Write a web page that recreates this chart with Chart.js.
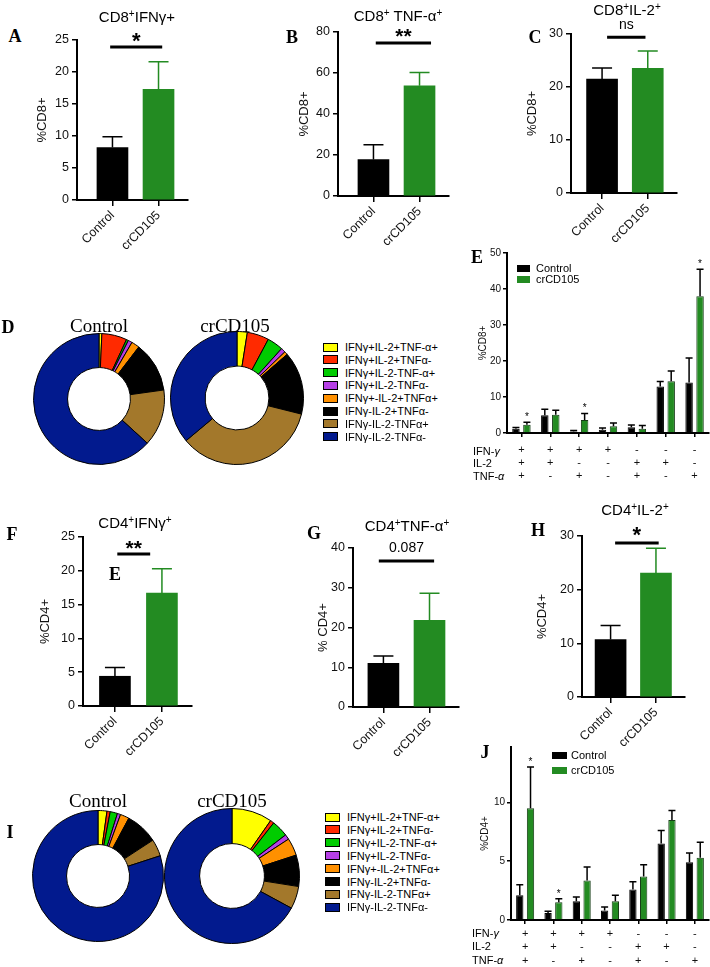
<!DOCTYPE html>
<html>
<head>
<meta charset="utf-8">
<script src="https://cdn.jsdelivr.net/npm/chart.js@4.4.1/dist/chart.umd.min.js"></script>
<style>
  html, body { margin: 0; padding: 0; background: #fff; }
  body { position: relative; width: 710px; height: 967px; overflow: hidden; font-family: "Liberation Sans", Arial, sans-serif; color: #000; }
  canvas { position: absolute; }
  .lbl { position: absolute; white-space: nowrap; transform: translate(-50%, -50%); line-height: 1; }
  .letter { font-family: "Liberation Serif", "Times New Roman", serif; font-weight: bold; font-size: 18px; }
  .title { font-size: 15px; }
  .title sup { font-size: 10px; vertical-align: 5px; line-height: 0; }
  .pie { font-family: "Liberation Serif", "Times New Roman", serif; font-size: 19px; }
  .row { position: absolute; white-space: nowrap; transform: translateY(-50%); line-height: 1; font-size: 11px; }
  .box { position: absolute; box-sizing: border-box; }
</style>
</head>
<body>
<script>
Chart.defaults.font.family = '"Liberation Sans", Arial, sans-serif';
Chart.defaults.color = '#111';
Chart.defaults.animation = false;

// two groups compared in every bar panel
const groups = ['Control', 'crCD105'];
const green = '#238b22';
const barColors = ['#000000', green];

// CD8+ single cytokine panels (mean, SD)
const cd8IfngMean = [8.2, 17.3];
const cd8IfngSd = [1.7, 4.3];
const cd8TnfMean = [17.8, 53.8];
const cd8TnfSd = [7.2, 6.4];
const cd8Il2Mean = [21.5, 23.5];
const cd8Il2Sd = [2.1, 3.3];

// CD4+ single cytokine panels
const cd4IfngMean = [4.4, 16.7];
const cd4IfngSd = [1.3, 3.6];
const cd4TnfMean = [11.0, 21.8];
const cd4TnfSd = [1.8, 6.8];
const cd4Il2Mean = [10.7, 23.1];
const cd4Il2Sd = [2.6, 4.6];

// polyfunctionality donuts (percent of cells)
const segLabels = ['IFNγ+IL-2+TNF-α+', 'IFNγ+IL-2+TNFα-', 'IFNγ+IL-2-TNF-α+', 'IFNγ+IL-2-TNFα-',
                   'IFNγ+-IL-2+TNFα+', 'IFNγ-IL-2+TNFα-', 'IFNγ-IL-2-TNFα+', 'IFNγ-IL-2-TNFα-'];
const segColors = ['#ffff00', '#ff2a00', '#00cc00', '#b640e6', '#ff9000', '#000000', '#a3782b', '#021a8e'];
const cd8PieControl = [0.7, 6.2, 0.5, 1.0, 2.0, 12.4, 14.0, 63.2];
const cd8PieCr = [2.5, 5.3, 3.9, 1.1, 0.8, 15.3, 35.0, 36.1];
const cd4PieControl = [2.2, 0.8, 1.8, 0.8, 2.2, 8.0, 4.2, 80.0];
const cd4PieCr = [9.7, 0.9, 4.0, 1.2, 4.2, 7.5, 5.4, 67.1];

// combination panels E (CD8) and J (CD4)
const signIfng = ['+', '+', '+', '+', '-', '-', '-'];
const signIl2 = ['+', '+', '-', '-', '+', '+', '-'];
const signTnf = ['+', '-', '+', '-', '+', '-', '+'];
const cd8ComboControl = [1.2, 4.9, 0.4, 0.9, 1.6, 12.9, 14.0];
const cd8ComboControlSd = [0.3, 1.7, 0.3, 0.5, 0.6, 1.4, 6.8];
const cd8ComboCr = [2.3, 5.1, 3.6, 1.9, 1.2, 14.4, 38.0];
const cd8ComboCrSd = [0.7, 1.2, 1.8, 0.9, 0.9, 2.8, 7.5];
const cd8ComboStars = [1, 0, 1, 0, 0, 0, 1];
const cd4ComboControl = [2.1, 0.6, 1.6, 0.8, 2.6, 6.5, 4.9];
const cd4ComboControlSd = [0.9, 0.15, 0.35, 0.3, 0.65, 1.1, 0.8];
const cd4ComboCr = [9.5, 1.5, 3.35, 1.6, 3.7, 8.5, 5.3];
const cd4ComboCrSd = [3.5, 0.3, 1.15, 0.5, 1.0, 0.8, 1.3];
const cd4ComboStars = [1, 1, 0, 0, 0, 0, 0];

// error bars (upper only, Prism style) + stars
const errorBars = {
  id: 'errorBars',
  afterDatasetsDraw(chart, args, o) {
    const ctx = chart.ctx, y = chart.scales.y;
    chart.data.datasets.forEach((ds, di) => {
      if (!ds.sd) return;
      chart.getDatasetMeta(di).data.forEach((bar, i) => {
        const top = y.getPixelForValue(ds.data[i].y !== undefined ? ds.data[i].y + ds.sd[i] : ds.data[i] + ds.sd[i]);
        ctx.save();
        ctx.strokeStyle = Array.isArray(ds.errColor) ? ds.errColor[i] : ds.errColor;
        ctx.lineWidth = o.width;
        ctx.beginPath();
        ctx.moveTo(bar.x, bar.y);
        ctx.lineTo(bar.x, top);
        ctx.moveTo(bar.x - o.cap, top);
        ctx.lineTo(bar.x + o.cap, top);
        ctx.stroke();
        if (ds.stars && ds.stars[i]) {
          ctx.fillStyle = '#000';
          ctx.font = o.starFont;
          ctx.textAlign = 'center';
          ctx.textBaseline = 'middle';
          ctx.fillText('*', bar.x, top - o.starGap);
        }
        ctx.restore();
      });
    });
  }
};

// significance bar between the two groups
const sigBar = {
  id: 'sigBar',
  afterDraw(chart, args, o) {
    if (!o || o.text === undefined) return;
    const { ctx, scales: { x, y } } = chart;
    const yy = y.getPixelForValue(o.y);
    const x0 = x.getPixelForValue(o.x0), x1 = x.getPixelForValue(o.x1);
    ctx.save();
    ctx.strokeStyle = '#000';
    ctx.lineWidth = 3;
    ctx.beginPath();
    ctx.moveTo(x0, yy);
    ctx.lineTo(x1, yy);
    ctx.stroke();
    ctx.fillStyle = '#000';
    ctx.font = o.font;
    ctx.textAlign = 'center';
    ctx.textBaseline = 'middle';
    ctx.fillText(o.text, (x0 + x1) / 2, yy + o.dy);
    ctx.restore();
  }
};

function makeCanvas(left, top, w, h) {
  const c = document.createElement('canvas');
  c.width = w; c.height = h;
  c.style.left = left + 'px'; c.style.top = top + 'px';
  c.style.width = w + 'px'; c.style.height = h + 'px';
  document.body.appendChild(c);
  return c;
}

function text(html, cx, cy, cls) {
  const d = document.createElement('div');
  d.className = 'lbl ' + cls;
  d.style.left = cx + 'px'; d.style.top = cy + 'px';
  d.innerHTML = html;
  document.body.appendChild(d);
}

function rowText(html, x, y, size) {
  const d = document.createElement('div');
  d.className = 'row';
  d.style.left = x + 'px'; d.style.top = y + 'px';
  if (size) d.style.fontSize = size + 'px';
  d.innerHTML = html;
  document.body.appendChild(d);
}

function box(x, y, w, h, color, border) {
  const b = document.createElement('div');
  b.className = 'box';
  b.style.cssText += `left:${x}px;top:${y - h / 2}px;width:${w}px;height:${h}px;background:${color};` +
    (border ? 'border:1px solid #000;' : '');
  document.body.appendChild(b);
}

const axisLine = { color: '#000', width: 2 };
const tickGrid = len => ({ drawOnChartArea: false, drawTicks: true, tickLength: len, color: '#000', lineWidth: 1.5, offset: false });

function barPanel(p) {
  const chartW = Math.round((p.xMax - p.xMin) * p.unit);
  const padTop = 16, padRight = 8, xH = 60;
  const cv = makeCanvas(p.axisX - p.yW, p.topY - padTop, p.yW + chartW + padRight, p.zeroY - p.topY + padTop + xH);
  new Chart(cv, {
    type: 'bar',
    data: {
      datasets: [{
        data: p.mean.map((v, i) => ({ x: i + 1, y: v })),
        sd: p.sd,
        backgroundColor: barColors,
        errColor: barColors,
        barThickness: 31
      }]
    },
    options: {
      responsive: false,
      layout: { padding: { top: padTop, right: padRight, left: 0, bottom: 0 } },
      plugins: {
        legend: { display: false }, tooltip: { enabled: false },
        errorBars: { cap: 10, width: 1.5 },
        sigBar: p.sig
      },
      scales: {
        x: {
          type: 'linear', min: p.xMin, max: p.xMax, offset: false,
          afterBuildTicks: s => { s.ticks = groups.map((g, i) => ({ value: i + 1 })); },
          afterFit: s => { s.height = xH; },
          ticks: { callback: v => groups[v - 1], minRotation: 45, maxRotation: 45, autoSkip: false, font: { size: 12.5 }, padding: 2, color: '#111' },
          grid: tickGrid(6), border: axisLine
        },
        y: {
          min: 0, max: p.yMax,
          afterFit: s => { s.width = p.yW; },
          ticks: { stepSize: p.step, font: { size: 12.5 }, padding: 3, color: '#111' },
          grid: tickGrid(5), border: axisLine,
          title: { display: true, text: p.yTitle, font: { size: 13 }, padding: 0, color: '#111' }
        }
      }
    },
    plugins: [errorBars, sigBar]
  });
}

function comboPanel(p) {
  const chartW = p.right - p.axisX;
  const cv = makeCanvas(p.axisX - p.yW, p.topY - p.padTop, p.yW + chartW + 1, p.zeroY - p.topY + p.padTop + p.xH);
  new Chart(cv, {
    type: 'bar',
    data: {
      labels: signIfng.map((s, i) => [signIfng[i], signIl2[i], signTnf[i]]),
      datasets: [
        { label: groups[0], data: p.ctrl, sd: p.ctrlSd, backgroundColor: '#000', borderColor: '#000', borderWidth: 1,
          errColor: '#000', categoryPercentage: 0.76, barPercentage: 0.68 },
        { label: groups[1], data: p.cr, sd: p.crSd, stars: p.stars, backgroundColor: green, borderColor: '#163d16', borderWidth: 1,
          errColor: '#000', categoryPercentage: 0.76, barPercentage: 0.68 }
      ]
    },
    options: {
      responsive: false,
      layout: { padding: { top: p.padTop, right: 1, left: 0, bottom: 0 } },
      plugins: {
        legend: { display: false }, tooltip: { enabled: false },
        errorBars: { cap: 3.5, width: 1.5, starFont: '10px "Liberation Sans", Arial, sans-serif', starGap: 5 }
      },
      scales: {
        x: {
          afterFit: s => { s.height = p.xH; },
          ticks: { autoSkip: false, maxRotation: 0, font: { size: 11, lineHeight: p.lineH }, padding: p.tickPad, color: '#111' },
          grid: tickGrid(4), border: axisLine
        },
        y: {
          min: 0, max: p.yMax,
          afterBuildTicks: s => { s.ticks = s.ticks.filter(t => t.value % p.step === 0); },
          afterFit: s => { s.width = p.yW; },
          ticks: { stepSize: p.step, font: { size: 10 }, padding: 2, color: '#111' },
          grid: tickGrid(4), border: axisLine,
          title: { display: true, text: p.yTitle, font: { size: 10 }, padding: 0, color: '#111' }
        }
      }
    },
    plugins: [errorBars]
  });
}

function donut(cx, cy, r, values) {
  const cv = makeCanvas(cx - r - 1, cy - r - 1, 2 * r + 2, 2 * r + 2);
  new Chart(cv, {
    type: 'doughnut',
    data: { labels: segLabels, datasets: [{ data: values, backgroundColor: segColors, borderColor: '#000', borderWidth: 1 }] },
    options: { responsive: false, cutout: '48%', plugins: { legend: { display: false }, tooltip: { enabled: false } } }
  });
}

function pieLegend(x, y0, step, textX) {
  segLabels.forEach((t, i) => {
    box(x, y0 + i * step, 15, 9, segColors[i], true);
    rowText(t, textX, y0 + i * step, 11);
  });
}

// ---- top row: CD8 ----
barPanel({ axisX: 77, topY: 40, zeroY: 200, yMax: 25, step: 5, xMin: 0.23, xMax: 2.64, unit: 46, yW: 42,
  mean: cd8IfngMean, sd: cd8IfngSd, yTitle: '%CD8+',
  sig: { x0: 0.95, x1: 2.08, y: 23.9, text: '*', dy: -5, font: 'bold 22px "Liberation Sans", Arial' } });
barPanel({ axisX: 338, topY: 32, zeroY: 196, yMax: 80, step: 20, xMin: 0.23, xMax: 2.64, unit: 46, yW: 41,
  mean: cd8TnfMean, sd: cd8TnfSd, yTitle: '%CD8+',
  sig: { x0: 1.05, x1: 2.25, y: 74.6, text: '**', dy: -6, font: 'bold 21px "Liberation Sans", Arial' } });
barPanel({ axisX: 571, topY: 34, zeroY: 193, yMax: 30, step: 10, xMin: 0.32, xMax: 2.64, unit: 45.5, yW: 46,
  mean: cd8Il2Mean, sd: cd8Il2Sd, yTitle: '%CD8+',
  sig: { x0: 1.11, x1: 1.95, y: 29.4, text: 'ns', dy: -12, font: '14px "Liberation Sans", Arial' } });

// ---- third row: CD4 ----
barPanel({ axisX: 83, topY: 537, zeroY: 706, yMax: 25, step: 5, xMin: 0.32, xMax: 2.64, unit: 47, yW: 45,
  mean: cd4IfngMean, sd: cd4IfngSd, yTitle: '%CD4+',
  sig: { x0: 1.05, x1: 1.75, y: 22.5, text: '**', dy: -5, font: 'bold 21px "Liberation Sans", Arial' } });
barPanel({ axisX: 353, topY: 548, zeroY: 707, yMax: 40, step: 10, xMin: 0.34, xMax: 2.64, unit: 46, yW: 37,
  mean: cd4TnfMean, sd: cd4TnfSd, yTitle: '% CD4+',
  sig: { x0: 0.9, x1: 2.1, y: 36.7, text: '0.087', dy: -13, font: '14px "Liberation Sans", Arial' } });
barPanel({ axisX: 582, topY: 536, zeroY: 697, yMax: 30, step: 10, xMin: 0.37, xMax: 2.64, unit: 45.5, yW: 47,
  mean: cd4Il2Mean, sd: cd4Il2Sd, yTitle: '%CD4+',
  sig: { x0: 1.1, x1: 2.06, y: 28.7, text: '*', dy: -7, font: 'bold 22px "Liberation Sans", Arial' } });

// ---- combination panels ----
comboPanel({ axisX: 507, right: 709, topY: 253, zeroY: 433, yMax: 50, step: 10, yW: 30, padTop: 8, xH: 50,
  lineH: 1.15, tickPad: 7, yTitle: '%CD8+',
  ctrl: cd8ComboControl, ctrlSd: cd8ComboControlSd, cr: cd8ComboCr, crSd: cd8ComboCrSd, stars: cd8ComboStars });
comboPanel({ axisX: 511, right: 709, topY: 745, zeroY: 920, yMax: 14.7, step: 5, yW: 32, padTop: 6, xH: 45,
  lineH: 1.23, tickPad: 3, yTitle: '%CD4+',
  ctrl: cd4ComboControl, ctrlSd: cd4ComboControlSd, cr: cd4ComboCr, crSd: cd4ComboCrSd, stars: cd4ComboStars });

// combination legends and row labels
box(517, 268, 13, 7, '#000');
rowText(groups[0], 536, 268, 11);
box(517, 279, 13, 7, green);
rowText(groups[1], 536, 279, 11);
box(552, 755, 15, 7, '#000');
rowText(groups[0], 571, 755, 11);
box(552, 770, 15, 7, green);
rowText(groups[1], 571, 770, 11);
[['IFN-<i>γ</i>', 451], ['IL-2', 463], ['TNF-<i>α</i>', 476]].forEach(r => rowText(r[0], 473, r[1], 11));
[['IFN-<i>γ</i>', 933], ['IL-2', 946], ['TNF-<i>α</i>', 960]].forEach(r => rowText(r[0], 472, r[1], 11));

// ---- donuts ----
donut(99, 399, 65, cd8PieControl);
donut(237, 398, 66, cd8PieCr);
donut(98, 876, 65, cd4PieControl);
donut(232, 876, 67, cd4PieCr);
pieLegend(323, 347, 12.8, 345);
pieLegend(325, 817, 12.9, 347);
text(groups[0], 99, 325, 'pie');
text(groups[1], 235, 325, 'pie');
text(groups[0], 98, 800, 'pie');
text(groups[1], 232, 800, 'pie');

// ---- titles ----
text('CD8<sup>+</sup>IFNγ+', 137, 16, 'title');
text('CD8<sup>+</sup> TNF-α<sup>+</sup>', 398, 15, 'title');
text('CD8<sup>+</sup>IL-2<sup>+</sup>', 627, 9, 'title');
text('CD4<sup>+</sup>IFNγ<sup>+</sup>', 135, 522, 'title');
text('CD4<sup>+</sup>TNF-α<sup>+</sup>', 407, 525, 'title');
text('CD4<sup>+</sup>IL-2<sup>+</sup>', 635, 509, 'title');

// ---- panel letters ----
[['A', 15, 36], ['B', 292, 37], ['C', 535, 37], ['D', 8, 327], ['E', 477, 257], ['F', 12, 534],
 ['E', 115, 574], ['G', 314, 533], ['H', 538, 530], ['I', 10, 832], ['J', 485, 752]]
  .forEach(l => text(l[0], l[1], l[2], 'letter'));
</script>
</body>
</html>
